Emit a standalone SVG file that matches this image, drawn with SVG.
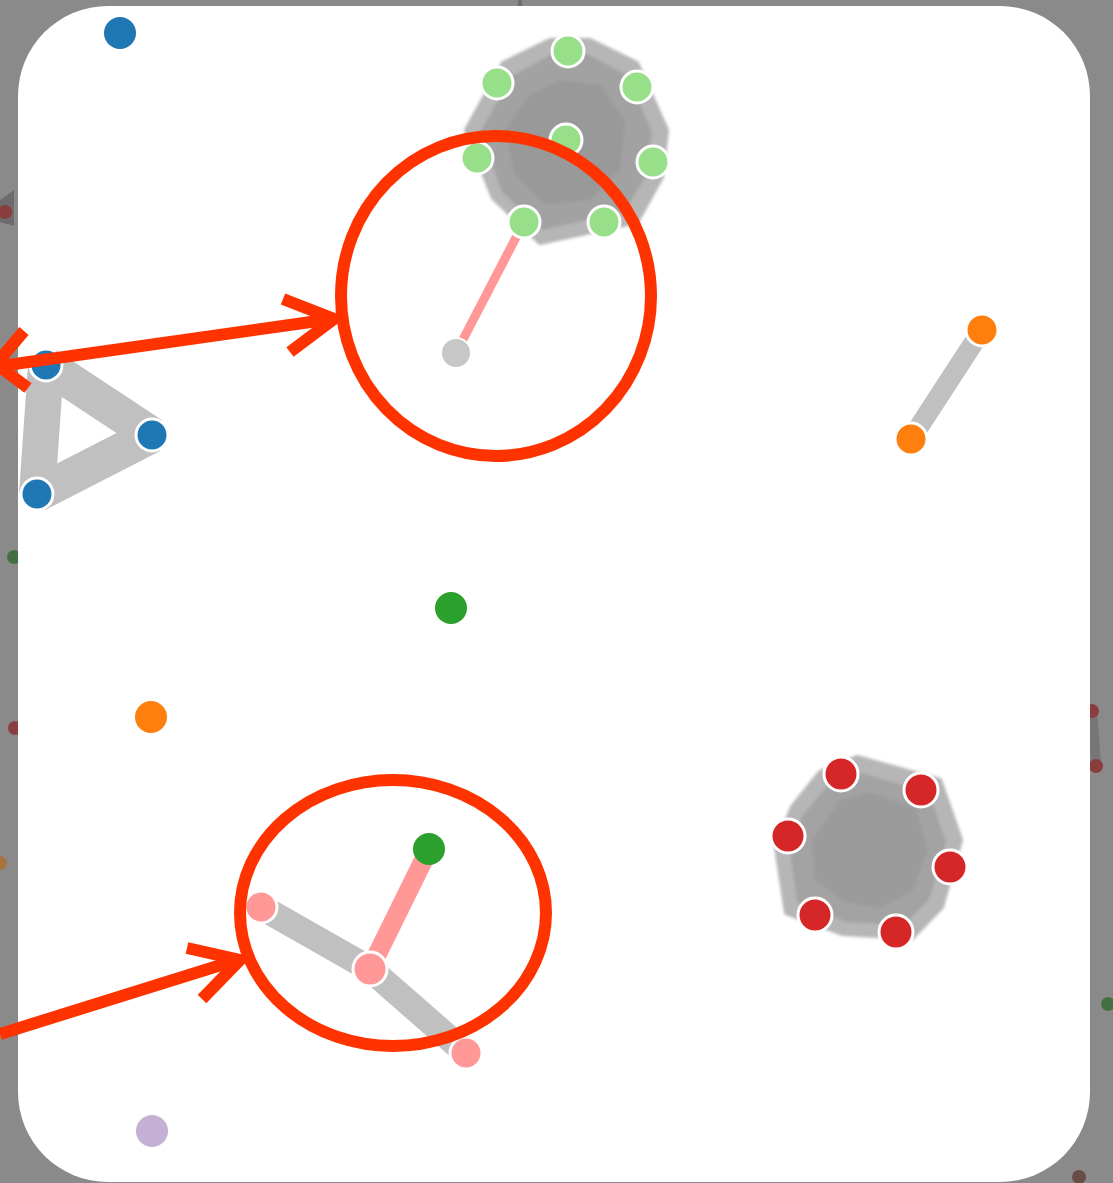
<svg xmlns="http://www.w3.org/2000/svg" width="1113" height="1183" viewBox="0 0 1113 1183">
<defs>
  <filter id="soft" x="-10%" y="-10%" width="120%" height="120%"><feGaussianBlur stdDeviation="1.5"/></filter>
</defs>
<style>
.node{stroke:#fff;stroke-width:3}
.dim{opacity:0.55}
.link{stroke:#c0c0c0;stroke-linecap:butt;fill:none}
.hot{stroke:#ff9896;fill:none}
.mark{stroke:#ff3300;fill:none;stroke-width:12}
.hull{stroke-linejoin:round}
</style>
<rect x="0" y="0" width="1113" height="1183" fill="#8a8a8a"/>
<g id="outside" class="dim">
  <polygon points="0,200 14,190 14,226 0,222" fill="#555"/>
  <circle cx="5" cy="212" r="7" fill="#8b0000"/>
  <circle cx="14" cy="557" r="7" fill="#0a5c0a"/>
  <circle cx="15" cy="728" r="7" fill="#8b0000"/>
  <circle cx="0" cy="863" r="7" fill="#c06000"/>
  <line x1="1092" y1="712" x2="1096" y2="765" stroke="#666" stroke-width="10"/>
  <circle cx="1092" cy="711" r="7" fill="#8b0000"/>
  <circle cx="1096" cy="766" r="7" fill="#8b0000"/>
  <circle cx="1108" cy="1004" r="7" fill="#0a5c0a"/>
  <circle cx="1079" cy="1177" r="7" fill="#4a1a10"/>
  <rect x="518" y="0" width="4" height="6" fill="#555"/>
</g>
<rect id="panel" x="18" y="6" width="1072" height="1176" rx="90" ry="90" fill="#fff"/>
<g id="connectors">
  <g filter="url(#soft)">
    <polygon class="hull" points="503,63 550,40 590,40 637,63 667,130 662,177 637,222 540,243 493,198 466,130" fill="#b6b6b6" stroke="#b6b6b6" stroke-width="4"/>
    <polygon class="hull" points="512,76 552,54 588,54 628,76 652,132 646,176 624,212 542,230 502,192 480,132" fill="#a2a2a2"/>
    <polygon class="hull" points="530,95 560,80 600,85 625,120 620,170 590,200 545,205 515,175 505,130" fill="#999"/>
    <polygon class="hull" points="820,772 857,757 940,780 961,840 942,907 912,938 843,934 786,913 776,847 792,807" fill="#b6b6b6" stroke="#b6b6b6" stroke-width="4"/>
    <polygon class="hull" points="827,786 858,772 929,793 946,842 929,900 904,925 846,922 797,902 790,850 803,815" fill="#a3a3a3"/>
    <polygon class="hull" points="840,800 870,792 915,808 928,850 912,892 880,908 845,902 815,880 812,840" fill="#9b9b9b"/>
  </g>
  <g class="link" stroke-width="36">
    <line x1="46" y1="365" x2="152" y2="435"/>
    <line x1="152" y1="435" x2="37" y2="494"/>
    <line x1="37" y1="494" x2="46" y2="365"/>
  </g>
  <line class="link" x1="982" y1="330" x2="911" y2="439" stroke-width="20"/>
  <line class="link" x1="261" y1="907" x2="370" y2="969" stroke-width="26"/>
  <line class="link" x1="370" y1="969" x2="466" y2="1053" stroke-width="26"/>
  <line class="hot" x1="524" y1="222" x2="456" y2="353" stroke-width="9"/>
  <line class="hot" x1="429" y1="849" x2="370" y2="969" stroke-width="19"/>
</g>
<g id="n-blue1"><circle cx="120" cy="33" r="16" fill="#1f77b4"/></g>
<g id="n-green-cluster" fill="#98df8a">
  <circle class="node" cx="568" cy="51" r="16"/>
  <circle class="node" cx="497" cy="83" r="16"/>
  <circle class="node" cx="637" cy="87" r="16"/>
  <circle class="node" cx="566" cy="140" r="16"/>
  <circle class="node" cx="477" cy="158" r="16"/>
  <circle class="node" cx="653" cy="162" r="16"/>
  <circle class="node" cx="524" cy="222" r="16"/>
  <circle class="node" cx="604" cy="222" r="16"/>
</g>
<g id="n-gray"><circle cx="456" cy="353" r="15" fill="#c7c7c7" stroke="#fff" stroke-width="2"/></g>
<g id="n-blue-tri" fill="#1f77b4">
  <circle class="node" cx="46" cy="365" r="16"/>
  <circle class="node" cx="152" cy="435" r="16"/>
  <circle class="node" cx="37" cy="494" r="16"/>
</g>
<g id="n-orange-pair" fill="#ff7f0e">
  <circle class="node" cx="982" cy="330" r="16"/>
  <circle class="node" cx="911" cy="439" r="16"/>
</g>
<g id="n-green1"><circle cx="451" cy="608" r="16" fill="#2ca02c"/></g>
<g id="n-orange1"><circle cx="151" cy="717" r="16" fill="#ff7f0e"/></g>
<g id="n-red-cluster" fill="#d62728">
  <circle class="node" cx="841" cy="774" r="17"/>
  <circle class="node" cx="921" cy="790" r="17"/>
  <circle class="node" cx="788" cy="836" r="17"/>
  <circle class="node" cx="950" cy="867" r="17"/>
  <circle class="node" cx="815" cy="915" r="17"/>
  <circle class="node" cx="896" cy="932" r="17"/>
</g>
<g id="n-pink" fill="#ff9896">
  <circle class="node" cx="261" cy="907" r="16"/>
  <circle class="node" cx="370" cy="969" r="17"/>
  <circle class="node" cx="466" cy="1053" r="16"/>
</g>
<g id="n-green2"><circle cx="429" cy="849" r="16" fill="#2ca02c"/></g>
<g id="n-purple"><circle cx="152" cy="1131" r="16" fill="#c5b0d5"/></g>
<g id="annotations">
  <ellipse class="mark" cx="496" cy="296" rx="155" ry="160" stroke-width="11"/>
  <ellipse class="mark" cx="393" cy="913" rx="153" ry="133" stroke-width="11"/>
  <line class="mark" x1="0" y1="366" x2="332" y2="319"/>
  <polyline class="mark" points="283,299 334,319 290,352" stroke-linejoin="miter"/>
  <polyline class="mark" points="24,331 -4,364 28,388" stroke-linejoin="miter"/>
  <line class="mark" x1="0" y1="1034" x2="237" y2="960"/>
  <polyline class="mark" points="187,948 240,960 202,999" stroke-linejoin="miter"/>
</g>
</svg>
